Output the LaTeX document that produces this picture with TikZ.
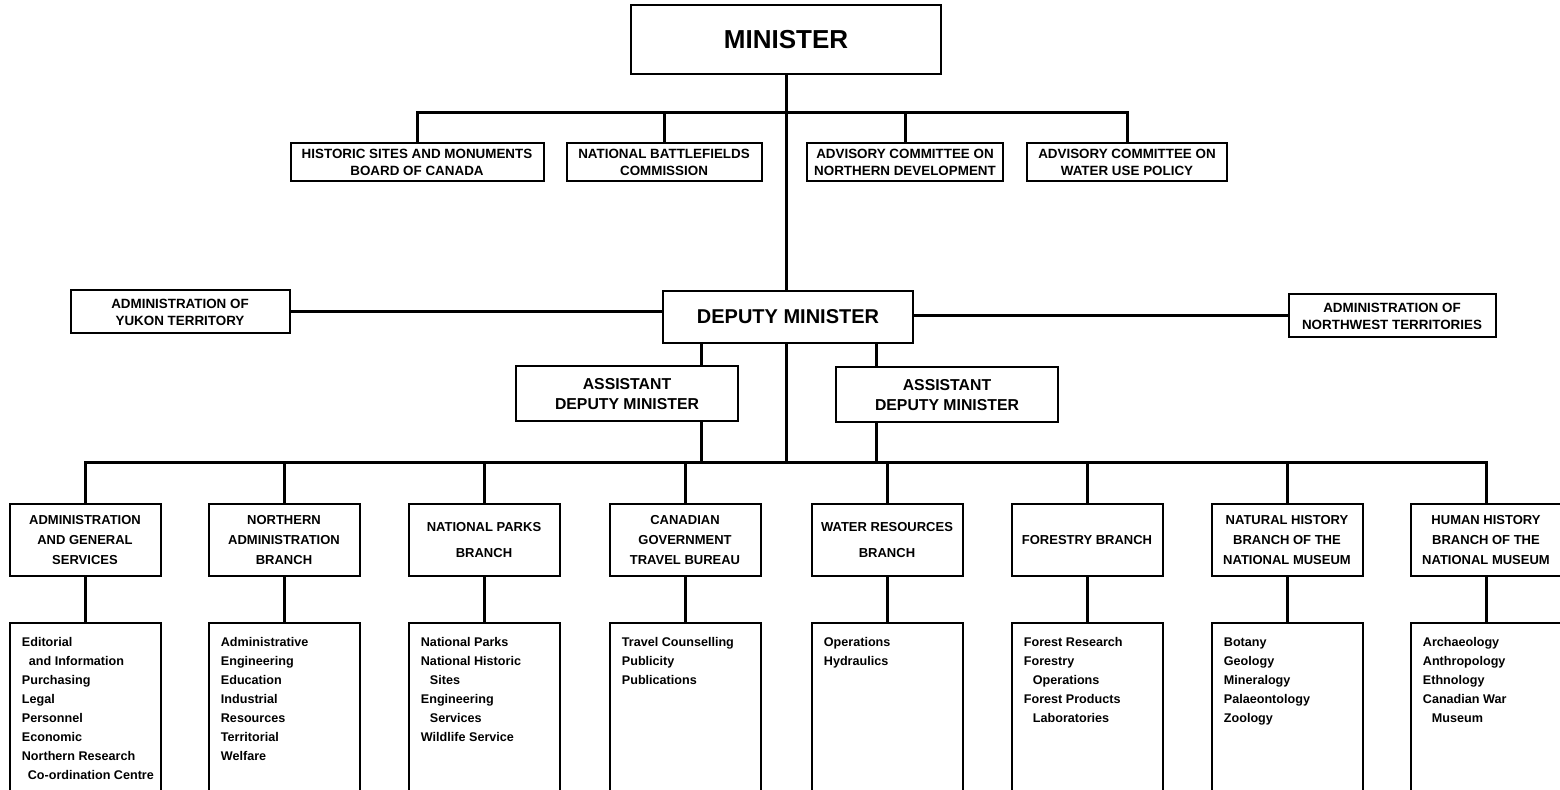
\documentclass[tikz,border=0pt]{standalone}
\usepackage{fontspec}
\setmainfont{Liberation Sans}
\usetikzlibrary{positioning}

\begin{document}
\begin{tikzpicture}[x=0.5pt,y=-0.5pt,
  box/.style={draw,line width=1pt,align=center,inner sep=1pt,font=\bfseries\fontsize{6.7}{8.4}\selectfont},
  branch/.style={box,minimum width=75.5pt,minimum height=36pt,font=\bfseries\fontsize{6.5}{9.8}\selectfont},
  subbox/.style={draw,line width=1pt,minimum width=75.5pt,minimum height=100pt,anchor=north},
  items/.style={anchor=north west,align=left,inner sep=0pt,font=\bfseries\fontsize{6.3}{9.5}\selectfont},
  link/.style={line width=1.5pt}]
\useasboundingbox (0,0) rectangle (1560,790);
\clip (0,0) rectangle (1560,790);

% top of the chart
\node[box,minimum width=155pt,minimum height=34.5pt,font=\bfseries\fontsize{13}{15}\selectfont] (M) at (786,40) {MINISTER};
\node[box,minimum width=126.5pt,minimum height=19pt] (HS) at (417,162) {HISTORIC SITES AND MONUMENTS\\BOARD OF CANADA};
\node[box,minimum width=97.5pt,minimum height=19pt] (BC) at (664,162) {NATIONAL BATTLEFIELDS\\COMMISSION};
\node[box,minimum width=98pt,minimum height=19pt] (AN) at (905,162) {ADVISORY COMMITTEE ON\\NORTHERN DEVELOPMENT};
\node[box,minimum width=100pt,minimum height=19pt] (AW) at (1127,162) {ADVISORY COMMITTEE ON\\WATER USE POLICY};
\coordinate (tb) at (786,113);

% deputy level
\node[box,minimum width=125pt,minimum height=26pt,font=\bfseries\fontsize{10}{12}\selectfont] (D) at (788,317) {DEPUTY MINISTER};
\node[box,minimum width=109.5pt,minimum height=21.5pt] (YT) at (180,312) {ADMINISTRATION OF\\YUKON TERRITORY};
\node[box,minimum width=103.5pt,minimum height=21.5pt] (NT) at (1392,316) {ADMINISTRATION OF\\NORTHWEST TERRITORIES};
\node[box,minimum width=111pt,minimum height=27.5pt,font=\bfseries\fontsize{7.9}{10}\selectfont] (AD1) at (627,394) {ASSISTANT\\DEPUTY MINISTER};
\node[box,minimum width=111pt,minimum height=27.5pt,font=\bfseries\fontsize{7.9}{10}\selectfont] (AD2) at (947,395) {ASSISTANT\\DEPUTY MINISTER};
\coordinate (bb) at (786,463);
\coordinate (c1) at (701,463);
\coordinate (c2) at (876,463);

% branches
\node[branch] (AGS) at (85,540) {ADMINISTRATION\\AND GENERAL\\SERVICES};
\node[branch] (NAB) at (284,540) {NORTHERN\\ADMINISTRATION\\BRANCH};
\node[branch] (NPB) at (484,540) {NATIONAL PARKS\\[3pt]BRANCH};
\node[branch] (TB) at (685,540) {CANADIAN\\GOVERNMENT\\TRAVEL BUREAU};
\node[branch] (WRB) at (887,540) {WATER RESOURCES\\[3pt]BRANCH};
\node[branch] (FB) at (1087,540) {FORESTRY BRANCH};
\node[branch] (NHB) at (1287,540) {NATURAL HISTORY\\BRANCH OF THE\\NATIONAL MUSEUM};
\node[branch] (HHB) at (1486,540) {HUMAN HISTORY\\BRANCH OF THE\\NATIONAL MUSEUM};

% divisions
\foreach \b in {AGS,NAB,NPB,TB,WRB,FB,NHB,HHB}
  \node[subbox] (\b-sub) at (\b |- 0,622) {};
\node[items] (AGS-it) at ([xshift=6.5pt,yshift=-7.5pt]AGS-sub.north west) {Editorial\\\hspace*{3.5pt}and Information\\Purchasing\\Legal\\Personnel\\Economic\\Northern Research\\\hspace*{3pt}Co-ordination Centre};
\node[items] (NAB-it) at ([xshift=6.5pt,yshift=-7.5pt]NAB-sub.north west) {Administrative\\Engineering\\Education\\Industrial\\Resources\\Territorial\\Welfare};
\node[items] (NPB-it) at ([xshift=6.5pt,yshift=-7.5pt]NPB-sub.north west) {National Parks\\National Historic\\\hspace*{4.5pt}Sites\\Engineering\\\hspace*{4.5pt}Services\\Wildlife Service};
\node[items] (TB-it) at ([xshift=6.5pt,yshift=-7.5pt]TB-sub.north west) {Travel Counselling\\Publicity\\Publications};
\node[items] (WRB-it) at ([xshift=6.5pt,yshift=-7.5pt]WRB-sub.north west) {Operations\\Hydraulics};
\node[items] (FB-it) at ([xshift=6.5pt,yshift=-7.5pt]FB-sub.north west) {Forest Research\\Forestry\\\hspace*{4.5pt}Operations\\Forest Products\\\hspace*{4.5pt}Laboratories};
\node[items] (NHB-it) at ([xshift=6.5pt,yshift=-7.5pt]NHB-sub.north west) {Botany\\Geology\\Mineralogy\\Palaeontology\\Zoology};
\node[items] (HHB-it) at ([xshift=6.5pt,yshift=-7.5pt]HHB-sub.north west) {Archaeology\\Anthropology\\Ethnology\\Canadian War\\\hspace*{4.5pt}Museum};

% connectors
\draw[link] (M.south) -- (M.south |- D.north);
\draw[link] (HS.north) |- (tb) -| (AW.north);
\draw[link] (BC.north) -- (BC.north |- tb);
\draw[link] (AN.north) -- (AN.north |- tb);
\draw[link] (YT.east) -- (YT.east -| D.west);
\draw[link] (D.east |- NT.west) -- (NT.west);
\draw[link] (M.south |- D.south) -- (bb);
\draw[link] (c1 |- D.south) -- (c1 |- AD1.north);
\draw[link] (c1 |- AD1.south) -- (c1);
\draw[link] (c2 |- D.south) -- (c2 |- AD2.north);
\draw[link] (c2 |- AD2.south) -- (c2);
\draw[link] (AGS.north) |- (bb) -| (HHB.north);
\foreach \b in {NAB,NPB,TB,WRB,FB,NHB}
  \draw[link] (\b.north) -- (\b.north |- bb);
\foreach \b in {AGS,NAB,NPB,TB,WRB,FB,NHB,HHB}
  \draw[link] (\b.south) -- (\b-sub.north);
\end{tikzpicture}
\end{document}
